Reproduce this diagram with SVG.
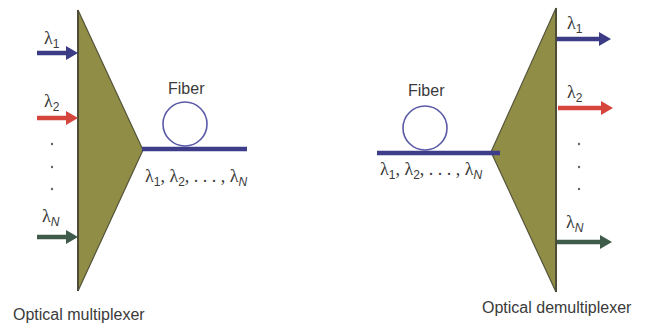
<svg xmlns="http://www.w3.org/2000/svg" width="649" height="324" viewBox="0 0 649 324">
<style>
.tri{fill:#8f8d46;stroke:#55543a;stroke-width:1.2;stroke-linejoin:miter}
.edge{stroke:#4d4d3a;stroke-width:2}
.fib{stroke:#3d3d8a;stroke-width:4.5}
.loop{fill:none;stroke:#5a5aa6;stroke-width:1.6}
.lam{font-family:"Liberation Serif","DejaVu Serif",serif;font-size:18px;fill:#3a3a3a}
.sub{font-family:"Liberation Sans",Arial,sans-serif;font-size:12px;fill:#3a3a3a}
.subi{font-family:"Liberation Sans",Arial,sans-serif;font-size:12px;font-style:italic;fill:#3a3a3a}
.lbl{font-family:"Liberation Sans",Arial,sans-serif;font-size:16px;fill:#3a3a3a}
.dot{fill:#666}
.ab{stroke:#3b3b86;stroke-width:4.5}
.ar{stroke:#d6453c;stroke-width:4.5}
.ag{stroke:#3f5b4a;stroke-width:4.5}
</style>
<defs>
<marker id="hb" markerUnits="userSpaceOnUse" markerWidth="13" markerHeight="16" refX="1" refY="8" orient="auto"><path d="M0,1 L12,8 L0,15 z" fill="#3b3b86"/></marker>
<marker id="hr" markerUnits="userSpaceOnUse" markerWidth="13" markerHeight="16" refX="1" refY="8" orient="auto"><path d="M0,1 L12,8 L0,15 z" fill="#d6453c"/></marker>
<marker id="hg" markerUnits="userSpaceOnUse" markerWidth="13" markerHeight="16" refX="1" refY="8" orient="auto"><path d="M0,1 L12,8 L0,15 z" fill="#3f5b4a"/></marker>
</defs>
<rect width="649" height="324" fill="#ffffff"/>

<g id="mux">
<polygon class="tri" points="78,10 143,150 78,291"/>
<line class="edge" x1="78" y1="10" x2="78" y2="291"/>
<text class="lam" x="44" y="44">λ<tspan class="sub" dy="4">1</tspan></text>
<text class="lam" x="44" y="107">λ<tspan class="sub" dy="4">2</tspan></text>
<circle class="dot" cx="52" cy="144" r="1.2"/>
<circle class="dot" cx="52" cy="167" r="1.2"/>
<circle class="dot" cx="52" cy="189" r="1.2"/>
<text class="lam" x="42" y="222">λ<tspan class="subi" dy="4">N</tspan></text>
<text class="lbl" x="13" y="320">Optical multiplexer</text>
</g>

<g id="fiber-left">
<circle class="loop" cx="185" cy="124" r="22"/>
<text class="lbl" x="168" y="94" font-size="17">Fiber</text>
<text class="lam" x="145" y="182">λ<tspan class="sub" dy="4">1</tspan><tspan dy="-4">, λ</tspan><tspan class="sub" dy="4">2</tspan><tspan dy="-4">, . . . , λ</tspan><tspan class="subi" dy="4">N</tspan></text>
</g>

<g id="fiber-right">
<circle class="loop" cx="425" cy="128" r="22"/>
<text class="lbl" x="408" y="96" font-size="17">Fiber</text>
<text class="lam" x="380" y="175">λ<tspan class="sub" dy="4">1</tspan><tspan dy="-4">, λ</tspan><tspan class="sub" dy="4">2</tspan><tspan dy="-4">, . . . , λ</tspan><tspan class="subi" dy="4">N</tspan></text>
</g>

<g id="demux">
<polygon class="tri" points="556,8 491,152 556,292"/>
<line class="edge" x1="556" y1="8" x2="556" y2="292"/>
<text class="lam" x="567" y="29">λ<tspan class="sub" dy="4">1</tspan></text>
<text class="lam" x="567" y="98">λ<tspan class="sub" dy="4">2</tspan></text>
<circle class="dot" cx="579" cy="144" r="1.2"/>
<circle class="dot" cx="579" cy="167" r="1.2"/>
<circle class="dot" cx="579" cy="189" r="1.2"/>
<text class="lam" x="566" y="228">λ<tspan class="subi" dy="4">N</tspan></text>
<text class="lbl" x="482" y="313" font-size="16.4">Optical demultiplexer</text>
</g>

<g id="connectors">
<line class="ab" x1="37" y1="53" x2="67" y2="53" marker-end="url(#hb)"/>
<line class="ar" x1="37" y1="118" x2="67" y2="118" marker-end="url(#hr)"/>
<line class="ag" x1="37" y1="237" x2="67" y2="237" marker-end="url(#hg)"/>
<line class="fib" x1="142" y1="149" x2="247" y2="149"/>
<line class="fib" x1="377" y1="153" x2="500" y2="153"/>
<line class="ab" x1="557" y1="39" x2="600" y2="39" marker-end="url(#hb)"/>
<line class="ar" x1="558" y1="108" x2="602" y2="108" marker-end="url(#hr)"/>
<line class="ag" x1="557" y1="242" x2="601" y2="242" marker-end="url(#hg)"/>
</g>
</svg>
